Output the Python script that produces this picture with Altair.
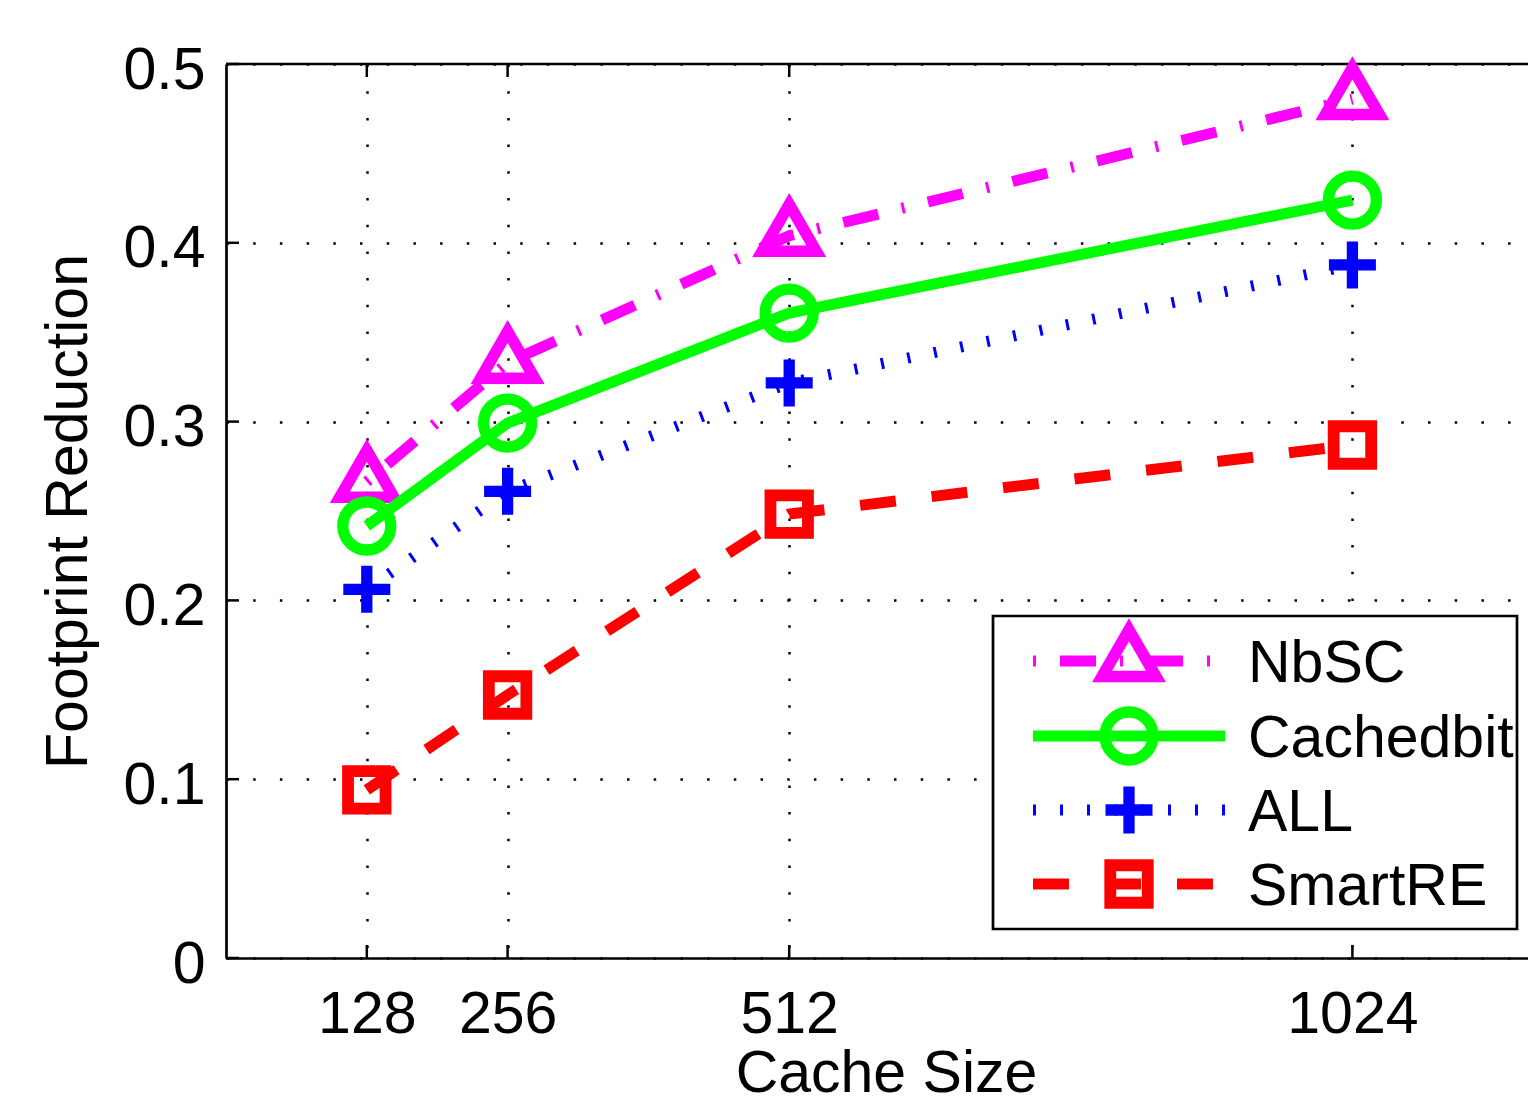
import altair as alt
import pandas as pd

# ---------------- data ----------------
cache_sizes = [128, 256, 512, 1024]
series_names = ["NbSC", "Cachedbit", "ALL", "SmartRE"]
nbsc = [0.2664, 0.333, 0.404, 0.4804]
cachedbit = [0.2416, 0.2992, 0.3607, 0.4239]
all_vals = [0.2062, 0.2610, 0.3216, 0.3876]
smartre = [0.0940, 0.1471, 0.2483, 0.2869]
series_values = [nbsc, cachedbit, all_vals, smartre]
x_ticks = [128, 256, 512, 1024]
y_ticks = [0, 0.1, 0.2, 0.3, 0.4, 0.5]

# ---------------- layout / style ----------------
W, H = 1302, 894
FONT = "Liberation Sans"
FS = 59
LW = 11

TRI = "M0,-1.155L1,0.577L-1,0.577Z"
PLUS = "M-0.24,-1H0.24V-0.24H1V0.24H0.24V1H-0.24V0.24H-1V-0.24H-0.24Z"

styles = {
    "NbSC": dict(color="#FF00FF", dash=[3, 24, 36, 24], shape=TRI, size=2916, filled=False, sw=11.5),
    "Cachedbit": dict(color="#00FF00", dash=None, shape="circle", size=2304, filled=False, sw=11.3),
    "ALL": dict(color="#0000FF", dash=[3, 24], shape=PLUS, size=2209, filled=True, sw=0),
    "SmartRE": dict(color="#FF0000", dash=[36, 36], shape="square", size=1406, filled=False, sw=11.8),
}

xscale = alt.Scale(domain=[0, W / 1.1], nice=False, zero=False)
yscale = alt.Scale(domain=[0, 0.5], nice=False, zero=False)

xaxis = alt.Axis(
    values=x_ticks, format="d", title="Cache Size", grid=True, gridColor="black",
    gridDash=[2.5, 24.2], gridWidth=2.5, gridOpacity=1,
    domainColor="black", domainWidth=2.7, ticks=False, tickSize=0,
    labelFont=FONT, labelFontSize=FS, labelColor="black", labelPadding=74,
    labelBaseline="alphabetic", labelFlush=False, labelOverlap=False,
    titleFont=FONT, titleFontSize=FS, titleFontWeight="normal", titleColor="black",
    titleX=660, titleY=133, titleAlign="center", titleBaseline="alphabetic",
)
yaxis = alt.Axis(
    values=y_ticks, format="~g", title="Footprint Reduction", grid=True,
    gridColor="black", gridDash=[2.5, 24.2], gridWidth=2.5, gridOpacity=1,
    domainColor="black", domainWidth=2.7, ticks=False, tickSize=0,
    labelFont=FONT, labelFontSize=FS, labelColor="black", labelPadding=21,
    labelBaseline="alphabetic", labelOffset=24, labelFlush=False, labelOverlap=False,
    titleFont=FONT, titleFontSize=FS, titleFontWeight="normal", titleColor="black",
    titleAngle=270, titleX=-140, titleY=447, titleAlign="center", titleBaseline="alphabetic",
)


def X(field="x"):
    return alt.X(f"{field}:Q", scale=xscale, axis=xaxis)


def Y(field="y"):
    return alt.Y(f"{field}:Q", scale=yscale, axis=yaxis)


layers = []

# top border of the box
top_df = pd.DataFrame({"y": [max(y_ticks)]})
layers.append(
    alt.Chart(top_df).mark_rule(color="black", strokeWidth=2.7).encode(
        y=Y(), x=alt.value(0), x2=alt.value(W)
    )
)

# inward ticks (MATLAB style)
xt_df = pd.DataFrame({"x": x_ticks})
yt_df = pd.DataFrame({"y": y_ticks})
layers.append(
    alt.Chart(xt_df).mark_rule(color="black", strokeWidth=2.5).encode(
        x=X(), y=alt.value(H - 13), y2=alt.value(H)
    )
)
layers.append(
    alt.Chart(xt_df).mark_rule(color="black", strokeWidth=2.5).encode(
        x=X(), y=alt.value(0), y2=alt.value(13)
    )
)
layers.append(
    alt.Chart(yt_df).mark_rule(color="black", strokeWidth=2.5).encode(
        y=Y(), x=alt.value(0), x2=alt.value(13)
    )
)

# series
for name, vals in zip(series_names, series_values):
    st = styles[name]
    df = pd.DataFrame({"x": cache_sizes, "y": vals})
    line_kw = dict(color=st["color"], strokeWidth=LW, strokeCap="butt", strokeJoin="miter")
    if st["dash"]:
        line_kw["strokeDash"] = st["dash"]
    layers.append(alt.Chart(df).mark_line(**line_kw).encode(x=X(), y=Y()))
    pt_kw = dict(shape=st["shape"], size=st["size"], filled=st["filled"],
                 color=st["color"], opacity=1, strokeJoin="miter",
                 strokeWidth=st["sw"] if st["sw"] else 0)
    layers.append(alt.Chart(df).mark_point(**pt_kw).encode(x=X(), y=Y()))

# legend box
one = pd.DataFrame({"k": [0]})
layers.append(
    alt.Chart(one).mark_rect(fill="white", stroke="black", strokeWidth=2.7).encode(
        x=alt.value(767), x2=alt.value(1291), y=alt.value(552), y2=alt.value(865)
    )
)
row_y = [597, 672, 746, 820]
for name, ry in zip(series_names, row_y):
    st = styles[name]
    ndf = pd.DataFrame({"name": [name]})
    rk = dict(color=st["color"], strokeWidth=LW, strokeCap="butt")
    if st["dash"]:
        rk["strokeDash"] = st["dash"]
    layers.append(
        alt.Chart(ndf).mark_rule(**rk).encode(
            x=alt.value(807), x2=alt.value(999), y=alt.value(ry)
        )
    )
    pt_kw = dict(shape=st["shape"], size=st["size"], filled=st["filled"],
                 color=st["color"], opacity=1, strokeJoin="miter",
                 strokeWidth=st["sw"] if st["sw"] else 0)
    layers.append(
        alt.Chart(ndf).mark_point(**pt_kw).encode(x=alt.value(903), y=alt.value(ry))
    )
    layers.append(
        alt.Chart(ndf).mark_text(
            align="left", baseline="alphabetic", font=FONT, fontSize=FS, color="black"
        ).encode(x=alt.value(1022), y=alt.value(ry + 21), text="name:N")
    )

chart = (
    alt.layer(*layers)
    .properties(
        width=W, height=H,
        autosize=alt.AutoSizeParams(type="none"),
        padding={"left": 218, "top": 56, "right": 0, "bottom": 138},
        background="white",
    )
    .configure_view(stroke=None)
)

chart.save("out.html", embed_options={"renderer": "svg", "actions": False})
